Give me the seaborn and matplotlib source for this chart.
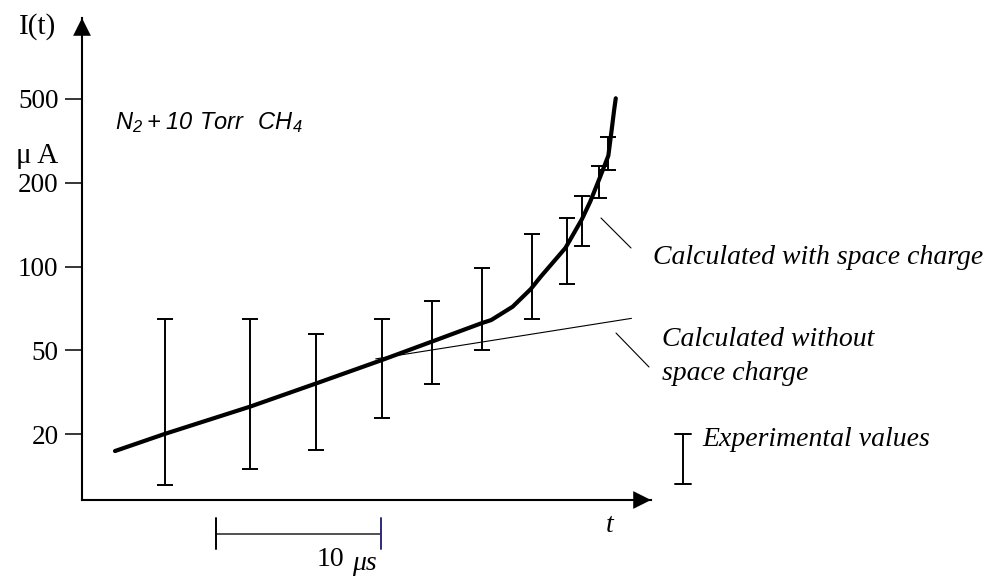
import numpy as np
import pandas as pd
import matplotlib
matplotlib.use("Agg")
import matplotlib.pyplot as plt
from matplotlib.lines import Line2D
from matplotlib.transforms import blended_transform_factory
import seaborn as sns

# ---- data -------------------------------------------------------------
# y-axis tick labels (uA), drawn evenly spaced on a piecewise-log scale
tick_values = [20, 50, 100, 200, 500]

# calculated current with space charge (t in us, I in uA)
with_sc_t = [2.0, 5.0, 10.2, 14.2, 18.2, 21.2, 24.2, 24.8, 26.1, 27.2, 27.8,
             29.3, 30.3, 30.8, 31.4, 31.9, 32.1, 32.25, 32.35]
with_sc_i = [16.6, 20, 27, 34.8, 45, 53.7, 62.5, 64.2, 71.7, 83, 91.9,
             116.6, 148, 171, 213, 269, 356, 443, 504]

# calculated current without space charge
without_sc_t = [17.8, 33.3]
without_sc_i = [45.5, 65.1]

# experimental values: time and lower / upper bound
exp_t = [5.03, 10.18, 14.21, 18.18, 21.21, 24.27, 27.29, 29.38, 30.32, 31.35, 31.90]
exp_low = [11.5, 13.7, 16.7, 23.9, 34.4, 50.1, 65, 86.5, 118.8, 176.7, 230]
exp_high = [65, 65, 57.2, 65, 75.4, 99, 130.5, 149.8, 179.3, 240.2, 328.8]

# time scale bar
scale_start = 8.12
scale_len = 10

# ---- figure setup -----------------------------------------------------
sns.set_theme(style="white")
plt.rcParams["font.family"] = ["Liberation Serif", "DejaVu Serif"]
plt.rcParams["text.color"] = "black"

W, H = 985, 579
fig = plt.figure(figsize=(W / 100, H / 100), dpi=100)


def fx(p):
    return p / W


def fy(p):
    return 1 - p / H


# axes box: from the y-axis to the x arrow tip, from the x-axis to the y arrow tip
ax = fig.add_axes([fx(82), fy(500), fx(651) - fx(82), fy(18) - fy(500)])

# piecewise logarithmic scale: each labelled value one level apart
lt = np.log10(tick_values)
lv = np.arange(len(tick_values), dtype=float)


def fwd(v):
    x = np.log10(np.clip(np.asarray(v, dtype=float), 1e-9, None))
    y = np.interp(x, lt, lv)
    y = np.where(x < lt[0], lv[0] + (x - lt[0]) / (lt[1] - lt[0]), y)
    y = np.where(x > lt[-1], lv[-1] + (x - lt[-1]) / (lt[-1] - lt[-2]), y)
    return y


def inv(l):
    l = np.asarray(l, dtype=float)
    x = np.interp(l, lv, lt)
    x = np.where(l < lv[0], lt[0] + (l - lv[0]) * (lt[1] - lt[0]), x)
    x = np.where(l > lv[-1], lt[-1] + (l - lv[-1]) * (lt[-1] - lt[-2]), x)
    return 10 ** x


ax.set_yscale("function", functions=(fwd, inv))
step = 83.75
ax.set_ylim(float(inv((434 - 500) / step)), float(inv((434 - 18) / step)))
ax.set_xlim(0, (651 - 82) / 16.5)

# ---- curves -----------------------------------------------------------
df_with = pd.DataFrame({"t": with_sc_t, "I": with_sc_i})
df_without = pd.DataFrame({"t": without_sc_t, "I": without_sc_i})
sns.lineplot(data=df_without, x="t", y="I", ax=ax, color="black",
             linewidth=0.8, sort=False)
sns.lineplot(data=df_with, x="t", y="I", ax=ax, color="black",
             linewidth=3.0, sort=False, solid_joinstyle="round",
             solid_capstyle="round")

# experimental error bars
low = np.array(exp_low)
high = np.array(exp_high)
ax.errorbar(exp_t, low, yerr=[np.zeros_like(low), high - low], fmt="none",
            ecolor="black", elinewidth=1.4, capsize=5.8, capthick=1.4)

# ---- axes styling -----------------------------------------------------
for side in ("top", "right"):
    ax.spines[side].set_visible(False)
for side in ("left", "bottom"):
    ax.spines[side].set_linewidth(1.5)
    ax.spines[side].set_color("black")

ax.set_yticks(tick_values)
ax.set_yticklabels([str(v) for v in tick_values])
ax.yaxis.set_minor_locator(matplotlib.ticker.NullLocator())
ax.tick_params(axis="y", which="major", left=True, length=12, width=1.1,
               direction="out", pad=5, labelsize=19.5, colors="black")
ax.set_xticks([])
ax.set_xlabel("")
ax.set_ylabel("")

# axis arrowheads
arrow_kw = dict(arrowstyle="-|>", color="black", lw=0, mutation_scale=32,
                shrinkA=0, shrinkB=0)
ax.annotate("", xy=(0, 1), xytext=(0, 0.95), xycoords="axes fraction",
            arrowprops=arrow_kw, annotation_clip=False)
ax.annotate("", xy=(1, 0), xytext=(0.95, 0), xycoords="axes fraction",
            arrowprops=arrow_kw, annotation_clip=False)

# ---- texts ------------------------------------------------------------
serif = ["Liberation Serif", "DejaVu Serif"]
fig.text(fx(38), fy(27), "I(t)", ha="center", va="center", size=21, family=serif)
fig.text(fx(37), fy(156), "μ A", ha="center", va="center", size=21, family=serif)
fig.text(fx(115), fy(123), r"$\mathregular{N_2 + 10\ Torr\ \ CH_4}$",
         ha="left", va="center", size=17, style="italic",
         family=["Liberation Sans", "DejaVu Sans"])

fig.text(fx(653), fy(258), "Calculated with space charge", ha="left",
         va="center", size=20, style="italic", family=serif)
fig.text(fx(662), fy(340), "Calculated without", ha="left",
         va="center", size=20, style="italic", family=serif)
fig.text(fx(662), fy(374), "space charge", ha="left",
         va="center", size=20, style="italic", family=serif)
fig.text(fx(702), fy(440), "Experimental values", ha="left",
         va="center", size=20, style="italic", family=serif)
fig.text(fx(610), fy(525), "t", ha="center", va="center", size=20,
         style="italic", family=serif)
fig.text(fx(330), fy(560), "10", ha="center", va="center", size=20, family=serif)
fig.text(fx(364), fy(563), "μs", ha="center", va="center", size=20,
         style="italic", family=serif)

# leader lines from the labels to the curves
for (x0, y0, x1, y1) in [(601, 218, 631, 248), (616, 333, 649, 367)]:
    fig.add_artist(Line2D([fx(x0), fx(x1)], [fy(y0), fy(y1)],
                          color="black", lw=0.8))

# legend glyph for the experimental values
for xs, ys in [([683, 683], [434, 484]), ([675, 691], [434, 434]),
               ([675, 691], [484, 484])]:
    fig.add_artist(Line2D([fx(x) for x in xs], [fy(y) for y in ys],
                          color="black", lw=1.4))

# 10 us scale bar below the time axis
tr = blended_transform_factory(ax.transData, fig.transFigure)
sb_y = fy(534)
ax.add_line(Line2D([scale_start, scale_start + scale_len], [sb_y, sb_y],
                   transform=tr, color="#333333", lw=1.2, clip_on=False))
ax.add_line(Line2D([scale_start, scale_start], [fy(518), fy(549)],
                   transform=tr, color="black", lw=1.4, clip_on=False))
ax.add_line(Line2D([scale_start + scale_len] * 2, [fy(518), fy(549)],
                   transform=tr, color="#2b2b7a", lw=1.4, clip_on=False))

fig.savefig("out.png", dpi=100, facecolor="white")
